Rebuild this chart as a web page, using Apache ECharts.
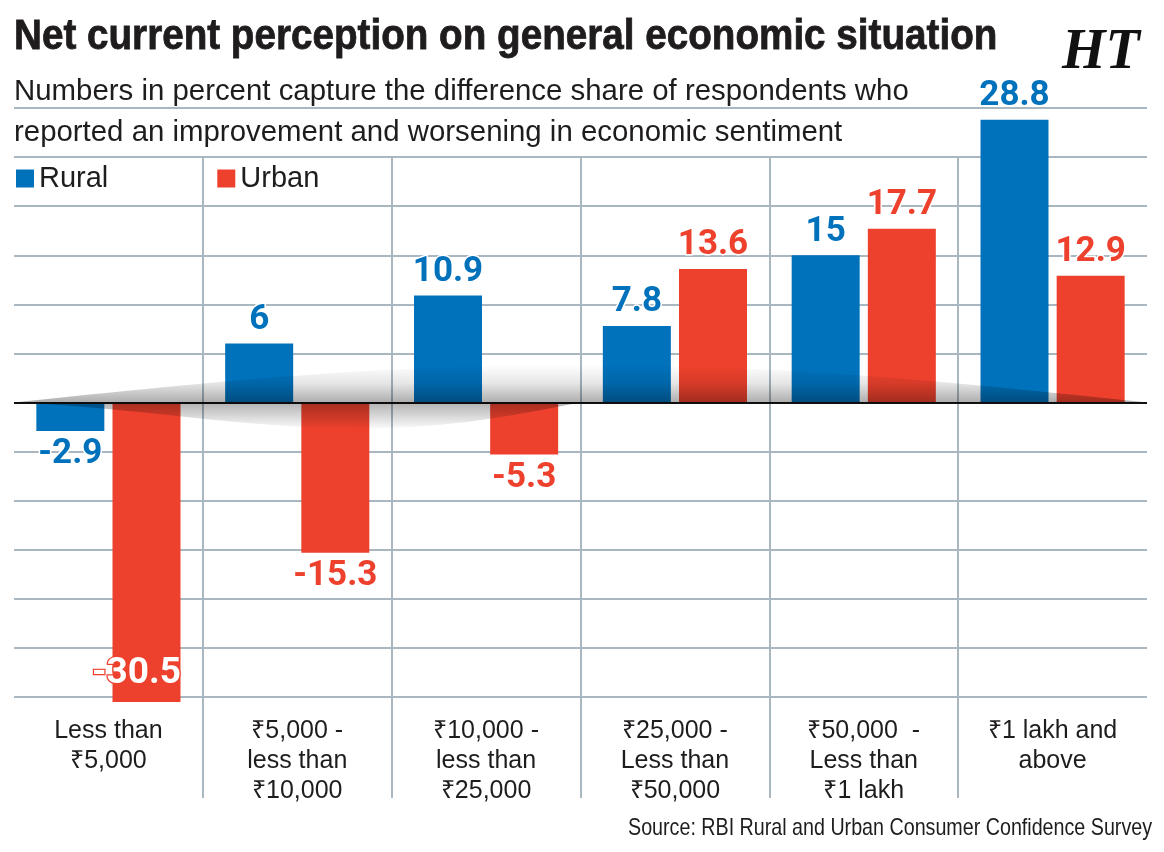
<!DOCTYPE html>
<html>
<head>
<meta charset="utf-8">
<script src="https://cdn.jsdelivr.net/npm/echarts@6/dist/echarts.min.js"></script>
<style>
  html, body { margin: 0; padding: 0; background: #fff; }
  #chart { width: 1164px; height: 852px; }
</style>
</head>
<body>
<div id="chart"></div>
<script>
// 数据
const categories = [
  'Less than\n₹5,000',
  '₹5,000 -\nless than\n₹10,000',
  '₹10,000 -\nless than\n₹25,000',
  '₹25,000 -\nLess than\n₹50,000',
  '₹50,000  -\nLess than\n₹1 lakh',
  '₹1 lakh and\nabove'
];
const rural = [-2.9, 6, 10.9, 7.8, 15, 28.8];
const urban = [-30.5, -15.3, -5.3, 13.6, 17.7, 12.9];
const seriesNames = ['Rural', 'Urban'];
const yMin = -30, yMax = 30, yStep = 5;

const BLUE = '#0071bb';
const RED = '#ee412d';
const GRID = '#a9b7c1';
const INK = '#1f1c1d';
const SANS = '"Liberation Sans", Arial, sans-serif';
const NUM = 'Roboto, "Liberation Sans", sans-serif';

const gridLeft = 14, gridRight = 17;

const chart = echarts.init(document.getElementById('chart'));

// 数值标签
function valueLabel(color) {
  return {
    show: true,
    position: 'outside',
    distance: 6,
    fontFamily: NUM,
    fontWeight: 'bold',
    fontSize: 35,
    color: color,
    textBorderColor: '#fff',
    textBorderWidth: 3
  };
}

// 超出网格的柱子，标签放在柱内
function toData(values, color) {
  return values.map(function (v) {
    if (v < yMin) {
      return {
        value: v,
        label: {
          position: 'insideBottom',
          distance: 10,
          offset: [-10, 0],
          fontSize: 37,
          color: '#fff',
          textBorderColor: color,
          textBorderWidth: 2.5
        }
      };
    }
    return v;
  });
}

// 文字（压窄）
function textEl(str, x, y, size, weight, scaleX, align) {
  return {
    type: 'text', x: x, y: y, scaleX: scaleX, silent: true, z: 20,
    style: {
      text: str, x: 0, y: 0,
      fill: INK,
      stroke: weight === 'bold' ? INK : null,
      lineWidth: weight === 'bold' ? 0.8 : 0,
      fontFamily: SANS, fontWeight: weight, fontSize: size,
      align: align || 'left', verticalAlign: 'middle'
    }
  };
}

const titleEls = [
  textEl('Net current perception on general economic situation', 14, 37, 42, 'bold', 0.92),
  textEl('Source: RBI Rural and Urban Consumer Confidence Survey', 1152, 828, 24, 'normal', 0.82, 'right'),
  {
    type: 'text', x: 1062, y: 26, silent: true,
    style: {
      text: 'HT', x: 0, y: 0, fill: '#111',
      fontFamily: '"Liberation Serif", serif',
      fontWeight: 'bold', fontStyle: 'italic', fontSize: 56,
      align: 'left', verticalAlign: 'top'
    }
  }
];

const option = {
  animation: false,
  backgroundColor: '#fff',
  title: [
    {
      text: 'Numbers in percent capture the difference share of respondents who\nreported an improvement and worsening in economic sentiment',
      left: 14, top: 71, padding: 0,
      textStyle: { fontFamily: SANS, fontWeight: 'normal', fontSize: 29.4, lineHeight: 41, color: INK }
    }
  ],
  legend: {
    data: seriesNames,
    left: 16, top: 164, padding: 0,
    icon: 'rect',
    itemWidth: 18, itemHeight: 18,
    itemGap: 109,
    textStyle: { fontFamily: SANS, fontSize: 29, color: INK }
  },
  grid: [
    { left: gridLeft, right: gridRight, top: 108, bottom: 155 },
    { left: gridLeft, right: gridRight, top: 157, bottom: 54 }
  ],
  xAxis: [
    {
      type: 'category', gridIndex: 0, data: categories,
      axisLine: { show: false, onZero: false },
      axisTick: { show: false },
      axisLabel: {
        margin: 19, interval: 0,
        fontFamily: SANS, fontSize: 25, lineHeight: 30,
        color: INK, verticalAlign: 'top'
      },
      splitLine: { show: false }
    },
    {
      type: 'category', gridIndex: 1, data: categories,
      axisLine: { show: false },
      axisTick: { show: false },
      axisLabel: { show: false },
      splitLine: {
        show: true, interval: 0,
        showMinLine: false, showMaxLine: false,
        lineStyle: { color: GRID, width: 2 }
      }
    }
  ],
  yAxis: [
    {
      type: 'value', gridIndex: 0,
      min: yMin, max: yMax, interval: yStep,
      axisLine: { show: false },
      axisTick: { show: false },
      axisLabel: { show: false },
      splitLine: { show: true, lineStyle: { color: GRID, width: 2 } }
    },
    {
      type: 'value', gridIndex: 1, show: false
    }
  ],
  series: [
    {
      name: seriesNames[0], type: 'bar',
      xAxisIndex: 0, yAxisIndex: 0,
      barWidth: 68, barGap: '12%',
      clip: false,
      itemStyle: { color: BLUE },
      label: valueLabel(BLUE),
      data: toData(rural, BLUE),
      markLine: {
        silent: true, symbol: ['none', 'none'],
        label: { show: false },
        lineStyle: { color: '#111', width: 2, type: 'solid' },
        data: [{ yAxis: 0 }]
      }
    },
    {
      name: seriesNames[1], type: 'bar',
      xAxisIndex: 0, yAxisIndex: 0,
      barWidth: 68, barGap: '12%',
      clip: false,
      itemStyle: { color: RED },
      label: valueLabel(RED),
      data: toData(urban, RED)
    }
  ],
  graphic: titleEls
};

chart.setOption(option);

// 零线附近的阴影装饰
const zeroY = chart.convertToPixel({ yAxisIndex: 0 }, 0);
const x0 = gridLeft, x1 = 1164 - gridRight;
const upper = [], lower = [];
for (let i = 0; i <= 60; i++) {
  const t = i / 60;
  upper.push([x0 + t * (x1 - x0), zeroY - 38 * Math.sin(Math.PI * t)]);
}
for (let i = 0; i <= 40; i++) {
  const u = i / 40;
  lower.push([x0 + u * 566, zeroY + 26 * Math.sin(Math.PI * Math.pow(u, 1.4))]);
}

chart.setOption({
  graphic: titleEls.concat([
    {
      type: 'polygon', silent: true, z: 10,
      shape: { points: upper },
      style: {
        fill: {
          type: 'linear', x: 0, y: 0, x2: 0, y2: 1,
          colorStops: [
            { offset: 0, color: 'rgba(0,0,0,0)' },
            { offset: 0.5, color: 'rgba(0,0,0,0.1)' },
            { offset: 1, color: 'rgba(0,0,0,0.32)' }
          ]
        }
      }
    },
    {
      type: 'polygon', silent: true, z: 10,
      shape: { points: lower },
      style: {
        fill: {
          type: 'linear', x: 0, y: 0, x2: 0, y2: 1,
          colorStops: [
            { offset: 0, color: 'rgba(0,0,0,0.3)' },
            { offset: 1, color: 'rgba(0,0,0,0.02)' }
          ]
        }
      }
    }
  ])
});
</script>
</body>
</html>
